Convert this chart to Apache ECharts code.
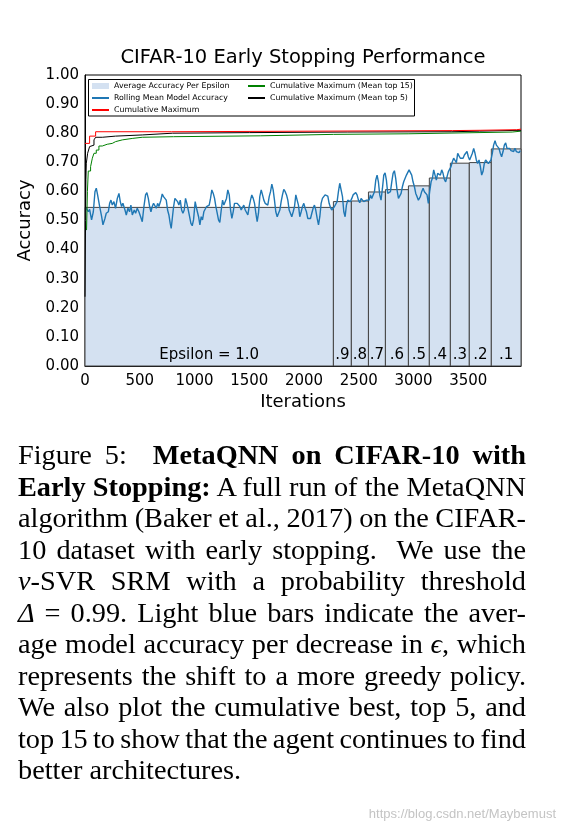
<!DOCTYPE html>
<html>
<head>
<meta charset="utf-8">
<script src="https://cdn.jsdelivr.net/npm/echarts@6/dist/echarts.min.js"></script>
<style>
html,body{margin:0;padding:0;background:#fff;}
#chart{position:absolute;left:0;top:0;width:565px;height:831px;}
.cap{position:absolute;left:18px;width:508px;font-family:'Liberation Serif','Times New Roman',serif;font-size:28.3px;word-spacing:-3px;line-height:31.5px;color:#000;text-align:justify;text-align-last:justify;}
.cap.last{text-align:left;text-align-last:left;word-spacing:0;}
#wm{position:absolute;left:330px;width:226px;top:806px;text-align:right;font-family:'Liberation Sans',Arial,sans-serif;font-size:13px;color:#c4c4c4;}
</style>
</head>
<body>
<div id="chart"></div>
<div class="cap" style="top:439px">Figure 5:&nbsp; <b>MetaQNN on CIFAR-10 with</b></div>
<div class="cap" style="top:470.5px"><b>Early Stopping:</b> A full run of the MetaQNN</div>
<div class="cap" style="top:502px">algorithm (Baker et al., 2017) on the CIFAR-</div>
<div class="cap" style="top:533.5px">10 dataset with early stopping.&nbsp; We use the</div>
<div class="cap" style="top:565px"><i>ν</i>-SVR SRM with a probability threshold</div>
<div class="cap" style="top:596.5px"><i>Δ</i> = 0.99. Light blue bars indicate the aver-</div>
<div class="cap" style="top:628px">age model accuracy per decrease in <i>ϵ</i>, which</div>
<div class="cap" style="top:659.5px">represents the shift to a more greedy policy.</div>
<div class="cap" style="top:691px">We also plot the cumulative best, top 5, and</div>
<div class="cap" style="top:722.5px">top 15 to show that the agent continues to find</div>
<div class="cap last" style="top:754px">better architectures.</div>
<div id="wm">https://blog.csdn.net/Maybemust</div>
<script>
// ---- data ----
const epsLabels = ['Epsilon = 1.0', '.9', '.8', '.7', '.6', '.5', '.4', '.3', '.2', '.1'];
const epsStart = [0, 2268, 2432, 2588, 2743, 2953, 3144, 3336, 3509, 3710];
const epsEnd = [2268, 2432, 2588, 2743, 2953, 3144, 3336, 3509, 3710, 3981];
const epsAvg = [0.545, 0.565, 0.567, 0.598, 0.606, 0.619, 0.646, 0.697, 0.699, 0.746];

const rollingMean = [
[12,.542],[30,.530],[42,.538],[60,.502],[76,.530],[91,.599],[103,.611],[115,.588],[134,.548],[152,.513],[164,.485],[182,.507],[194,.525],[213,.530],[225,.559],[237,.570],[249,.553],[264,.565],[279,.542],[295,.576],[310,.593],[322,.565],[334,.548],[346,.559],[365,.536],[377,.519],[392,.542],[407,.530],[419,.553],[432,.519],[450,.536],[462,.525],[477,.542],[492,.530],[508,.513],[523,.496],[538,.548],[553,.588],[565,.596],[578,.576],[590,.548],[602,.530],[614,.548],[626,.559],[638,.565],[651,.542],[663,.559],[675,.548],[693,.570],[705,.591],[717,.582],[730,.588],[742,.570],[754,.536],[766,.519],[778,.490],[787,.473],[797,.507],[809,.548],[821,.576],[833,.582],[845,.565],[857,.553],[870,.570],[882,.536],[894,.525],[906,.536],[918,.576],[930,.559],[943,.536],[955,.513],[967,.490],[979,.482],[991,.502],
[1006,.565],[1022,.536],[1037,.513],[1049,.485],[1061,.513],[1073,.502],[1085,.530],[1098,.536],[1110,.548],[1122,.545],[1134,.553],[1146,.576],[1158,.605],[1171,.593],[1183,.576],[1195,.548],[1207,.525],[1219,.502],[1231,.493],[1244,.536],[1256,.570],[1268,.553],[1280,.548],[1292,.576],[1304,.605],[1317,.588],[1329,.536],[1341,.507],[1353,.530],[1365,.559],[1377,.565],[1390,.559],[1402,.565],[1414,.548],[1426,.536],[1438,.530],[1450,.553],[1463,.536],[1475,.530],[1487,.519],[1499,.548],[1511,.570],[1523,.588],[1536,.576],[1548,.559],[1560,.525],[1572,.496],[1584,.525],[1596,.582],[1609,.605],[1621,.588],[1633,.570],[1645,.559],[1657,.565],[1669,.553],[1682,.582],[1694,.599],[1706,.625],[1718,.605],[1730,.570],[1742,.530],[1755,.513],[1767,.525],[1779,.536],[1791,.565],[1803,.588],[1815,.607],[1828,.599],[1840,.588],[1852,.570],[1864,.536],[1876,.530],[1888,.513],[1901,.530],[1913,.548],[1925,.588],[1937,.570],[1949,.553],[1961,.513],[1974,.530],[1986,.548],[1998,.559],[2010,.542],[2022,.530],[2034,.507],[2047,.513],
[2059,.507],[2071,.525],[2083,.542],[2095,.553],[2107,.536],[2120,.507],[2132,.485],[2144,.513],[2156,.559],[2168,.576],[2180,.570],[2192,.588],[2205,.593],[2217,.584],[2229,.559],[2241,.545],[2253,.536],[2265,.530],[2278,.548],[2290,.553],[2302,.565],[2314,.599],[2326,.628],[2338,.622],[2351,.582],[2363,.530],[2375,.513],[2387,.553],[2399,.570],[2411,.576],[2424,.565],[2436,.576],[2448,.588],[2460,.582],[2472,.596],[2484,.588],[2497,.570],[2509,.561],[2521,.576],[2533,.582],[2545,.565],[2557,.559],[2570,.570],[2582,.565],[2594,.570],[2606,.588],[2618,.576],[2630,.570],[2643,.599],[2655,.639],[2667,.656],[2679,.633],[2691,.588],[2703,.570],[2716,.611],[2728,.656],[2740,.664],[2752,.639],[2764,.593],[2776,.588],[2789,.599],[2801,.633],[2813,.662],[2825,.671],[2837,.645],[2849,.605],[2862,.576],[2874,.570],[2886,.593],[2898,.616],[2910,.633],[2922,.639],[2935,.656],[2947,.662],[2959,.674],[2971,.679],[2983,.656],[2995,.633],[3008,.616],[3020,.593],[3032,.582],[3044,.570],
[3062,.582],[3074,.599],[3087,.611],[3099,.599],[3111,.599],[3123,.588],[3135,.559],[3147,.599],[3160,.633],[3172,.645],[3184,.674],[3196,.656],[3208,.639],[3220,.662],[3233,.668],[3245,.656],[3257,.674],[3269,.662],[3281,.641],[3293,.633],[3306,.651],[3318,.668],[3330,.662],[3342,.685],[3354,.702],[3366,.714],[3379,.708],[3391,.699],[3403,.731],[3415,.722],[3427,.714],[3439,.708],[3452,.714],[3464,.725],[3476,.719],[3488,.737],[3500,.719],[3512,.708],[3525,.702],[3537,.731],[3549,.748],[3561,.731],[3573,.708],[3585,.696],[3598,.708],[3610,.685],[3622,.656],[3634,.668],[3646,.696],[3658,.708],[3671,.702],[3683,.696],[3695,.699],[3707,.708],[3719,.731],[3731,.759],[3744,.774],[3756,.759],[3768,.754],[3780,.748],[3792,.731],[3804,.719],[3817,.737],[3829,.759],[3841,.767],[3853,.748],[3865,.742],[3877,.748],[3890,.740],[3902,.745],[3914,.737],[3926,.748],[3938,.737],[3950,.742],[3963,.733],[3975,.740]
];

const cumMax = [[0,.765],[42,.79],[97,.805],[790,.809],[3354,.81],[3607,.812],[3941,.814],[3981,.814]];
const cumTop5 = [[0,.238],[5,.5],[8,.64],[12,.697],[24,.731],[42,.754],[60,.759],[82,.777],[97,.786],[158,.790],[279,.794],[523,.800],[800,.802],[1500,.804],[2400,.805],[3350,.807],[3600,.810],[3981,.811]];
const cumTop15 = [[14,.467],[22,.60],[30,.67],[51,.685],[67,.714],[82,.731],[103,.742],[127,.756],[158,.762],[203,.765],[249,.771],[279,.777],[340,.782],[431,.786],[523,.788],[808,.791],[1600,.796],[2270,.798],[2950,.804],[3900,.807],[3981,.809]];

const xMax = 3981;
const xTickStep = 500;
const yTickStep = 0.1;

// ---- chart ----
const FONT = 'DejaVu Sans';
const chart = echarts.init(document.getElementById('chart'), null, {renderer: 'canvas'});
const barData = epsStart.map((s, i) => [s, epsEnd[i], epsAvg[i]]);
const noSymbol = {color: 'rgba(0,0,0,0)', borderColor: 'rgba(0,0,0,0)', borderWidth: 0, opacity: 0};

const option = {
  animation: false,
  backgroundColor: 'transparent',
  grid: {left: 85, right: 44, top: 75, bottom: 465, show: true, borderColor: '#000', borderWidth: 1, backgroundColor: 'transparent'},
  xAxis: {
    type: 'value', min: 0, max: xMax, interval: xTickStep,
    name: 'Iterations', nameLocation: 'middle', nameGap: 27,
    nameTextStyle: {fontFamily: FONT, fontSize: 18, color: '#000'},
    axisLine: {show: true, lineStyle: {color: '#000', width: 1}},
    axisTick: {show: false}, splitLine: {show: false},
    axisLabel: {fontFamily: FONT, fontSize: 15, color: '#000', margin: 8,
      formatter: v => (v % xTickStep === 0 ? String(v) : '')}
  },
  yAxis: {
    type: 'value', min: 0, max: 1, interval: yTickStep,
    name: 'Accuracy', nameLocation: 'middle', nameGap: 40, nameRotate: 90,
    nameTextStyle: {fontFamily: FONT, fontSize: 18, color: '#000'},
    axisLine: {show: true, lineStyle: {color: '#000', width: 1}},
    axisTick: {show: false}, splitLine: {show: false},
    axisLabel: {fontFamily: FONT, fontSize: 15, color: '#000', margin: 6,
      formatter: v => v.toFixed(2)}
  },
  legend: [
    {
      orient: 'vertical', left: 91, top: 82, padding: 0, itemGap: 4,
      itemWidth: 17, itemHeight: 6,
      textStyle: {fontFamily: FONT, fontSize: 7.8, color: '#000'},
      data: [
        {name: 'Average Accuracy Per Epsilon', icon: 'rect'},
        {name: 'Rolling Mean Model Accuracy', itemStyle: noSymbol},
        {name: 'Cumulative Maximum', itemStyle: noSymbol}
      ]
    },
    {
      orient: 'vertical', left: 247, top: 82, padding: 0, itemGap: 4,
      itemWidth: 17, itemHeight: 6,
      textStyle: {fontFamily: FONT, fontSize: 7.8, color: '#000'},
      itemStyle: noSymbol,
      data: [
        {name: 'Cumulative Maximum (Mean top 15)', itemStyle: noSymbol},
        {name: 'Cumulative Maximum (Mean top 5)', itemStyle: noSymbol}
      ]
    }
  ],
  graphic: [
    {type: 'text', x: 303, y: 58, z: 10,
     style: {text: 'CIFAR-10 Early Stopping Performance', fontFamily: FONT, fontSize: 19.5, fill: '#000', align: 'center', verticalAlign: 'middle'}},
    {type: 'rect', z: 0, shape: {x: 88.5, y: 79.5, width: 326, height: 36.5},
     style: {fill: '#fff', stroke: '#000', lineWidth: 1}}
  ],
  series: [
    {
      type: 'custom', name: 'Average Accuracy Per Epsilon',
      data: barData, encode: {x: [0, 1], y: 2}, z: 1,
      itemStyle: {color: '#d4e1f1'},
      renderItem: function (params, api) {
        const i = params.dataIndex;
        const tl = api.coord([api.value(0), api.value(2)]);
        const br = api.coord([api.value(1), 0]);
        const ly = api.coord([0, 0.038])[1];
        return {
          type: 'group',
          children: [
            {type: 'rect', shape: {x: tl[0], y: tl[1], width: br[0] - tl[0], height: br[1] - tl[1]},
             style: {fill: '#d4e1f1', stroke: '#444', lineWidth: 1}},
            {type: 'text', style: {text: epsLabels[i], x: (tl[0] + br[0]) / 2, y: ly,
              align: 'center', verticalAlign: 'middle', fontFamily: FONT, fontSize: 15, fill: '#000'}}
          ]
        };
      }
    },
    {
      type: 'line', name: 'Rolling Mean Model Accuracy', data: rollingMean,
      symbol: 'none', showSymbol: false, z: 3,
      itemStyle: {color: '#1f77b4'}, lineStyle: {color: '#1f77b4', width: 1.4}
    },
    {
      type: 'line', name: 'Cumulative Maximum (Mean top 15)', data: cumTop15, step: 'end',
      symbol: 'none', showSymbol: false, z: 4,
      itemStyle: {color: '#008000'}, lineStyle: {color: '#008000', width: 1}
    },
    {
      type: 'line', name: 'Cumulative Maximum (Mean top 5)', data: cumTop5, step: 'end',
      symbol: 'none', showSymbol: false, z: 5,
      itemStyle: {color: '#000000'}, lineStyle: {color: '#000000', width: 1}
    },
    {
      type: 'line', name: 'Cumulative Maximum', data: cumMax, step: 'end',
      symbol: 'none', showSymbol: false, z: 6,
      itemStyle: {color: '#ff0000'}, lineStyle: {color: '#ff0000', width: 1}
    }
  ]
};
chart.setOption(option);
</script>
</body>
</html>
